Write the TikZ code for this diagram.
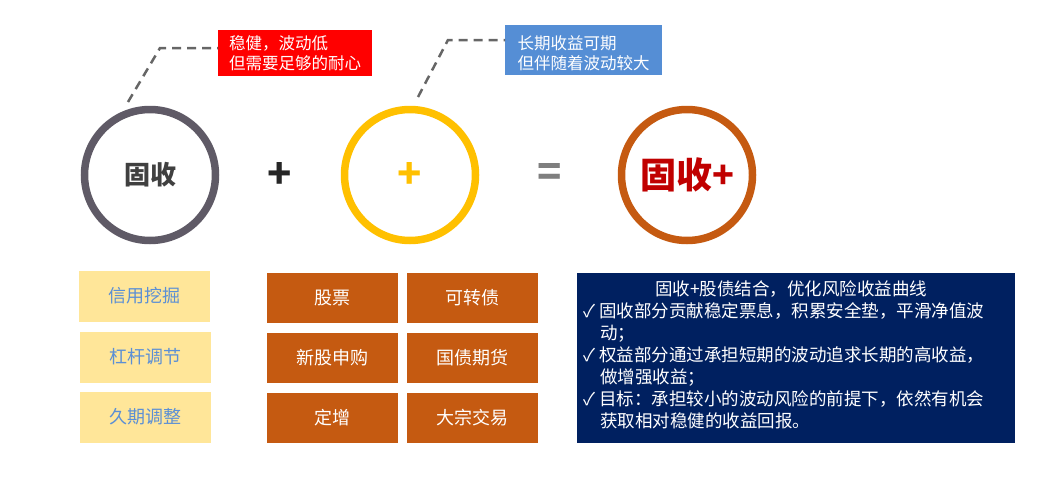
\documentclass[tikz,border=0pt]{standalone}
\usepackage{fontspec}
\setmainfont{Noto Sans CJK SC}
\begin{document}
\begin{tikzpicture}[x=1pt,y=-1pt,
  ring/.style={circle,line width=7.5pt,minimum size=131pt,inner sep=0pt},
  ybox/.style={fill=yellowbox,minimum width=131pt,minimum height=51pt,font=\fontsize{18}{20}\selectfont,text=bluetext,inner sep=0pt},
  obox/.style={fill=orangebox,minimum width=131pt,minimum height=50pt,font=\fontsize{18}{20}\selectfont,text=white,inner sep=0pt},
  callout/.style={text=white,font=\fontsize{16.5}{20}\selectfont,align=left,anchor=north west,inner xsep=2pt,inner ysep=2pt},
  dashline/.style={draw=gray!80!black,line width=2.5pt,dash pattern=on 9pt off 6pt}]
\definecolor{yellowbox}{HTML}{FFE699}
\definecolor{bluetext}{HTML}{5B8FD5}
\definecolor{orangebox}{HTML}{C55A11}
\definecolor{navy}{HTML}{002060}
\useasboundingbox (0,0) rectangle (1041,482);
\node[ring,draw={rgb,255:red,95;green,90;blue,102}] (c1) at (150,175) {\fontsize{26}{28}\selectfont\bfseries\color[HTML]{404040}固收};
\node (p) at (280,175) {\fontsize{40}{40}\selectfont\bfseries\color[HTML]{262626}+};
\node[ring,draw={rgb,255:red,255;green,192;blue,0}] (c2) at (410,175) {\fontsize{40}{40}\selectfont\bfseries\color[HTML]{FFC000}+};
\node (e) at (550,175) {\fontsize{40}{40}\selectfont\bfseries\color[HTML]{7F7F7F}=};
\node[ring,draw=orangebox] (c3) at (687,175) {\fontsize{36}{38}\selectfont\bfseries\color[HTML]{C00000}固收+};
\node[callout,fill=red,minimum width=154pt,minimum height=46pt] (r) at (218,30) {稳健，波动低\\但需要足够的耐心};
\node[callout,fill={rgb,255:red,85;green,142;blue,213},minimum width=157pt,minimum height=50pt] (b) at (505,25) {\rule{0pt}{19pt}长期收益可期\\但伴随着波动较大};
\coordinate (k1) at (160,48);
\coordinate (k2) at (448,40);
\draw[dashline] (128,102) -- (k1) -- (r.west|-k1);
\draw[dashline] (418,97) -- (k2) -- (b.west|-k2);
\node[ybox] (y1) at (144,296) {信用挖掘};
\node[ybox] (y2) at (145,357) {杠杆调节};
\node[ybox] (y3) at (145,417) {久期调整};
\node[obox] (o1) at (332,298) {股票};
\node[obox] (o2) at (472,298) {可转债};
\node[obox] (o3) at (332,358) {新股申购};
\node[obox] (o4) at (472,358) {国债期货};
\node[obox] (o5) at (332,418) {定增};
\node[obox] (o6) at (472,418) {大宗交易};
\node[fill=navy,minimum width=438pt,minimum height=170pt,anchor=north west] (n) at (577,273) {};
\node[text=white,font=\fontsize{17.5}{22}\selectfont,anchor=north west,align=left,inner sep=0pt] (nt) at (583,280)
{\hspace*{72pt}固收+股债结合，优化风险收益曲线\\
✓ 固收部分贡献稳定票息，积累安全垫，平滑净值波\\
\hspace*{17pt}动；\\
✓ 权益部分通过承担短期的波动追求长期的高收益，\\
\hspace*{17pt}做增强收益；\\
✓ 目标：承担较小的波动风险的前提下，依然有机会\\
\hspace*{17pt}获取相对稳健的收益回报。};
\end{tikzpicture}
\end{document}
